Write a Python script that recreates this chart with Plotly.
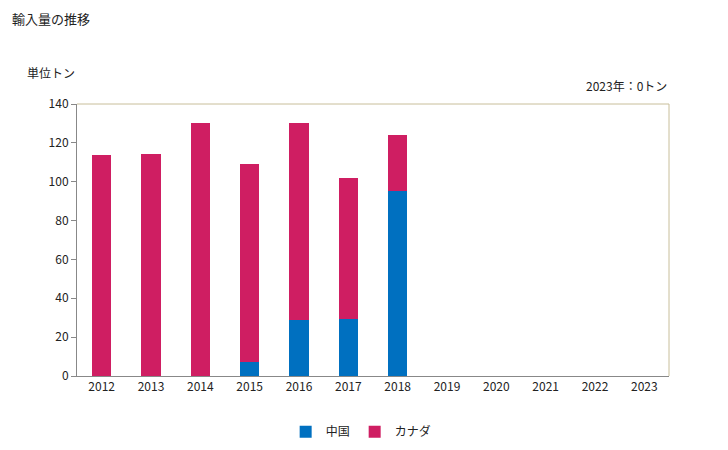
import plotly.graph_objects as go

years = ["2012", "2013", "2014", "2015", "2016", "2017", "2018",
         "2019", "2020", "2021", "2022", "2023"]
china = [0, 0, 0, 7.3, 29, 29.3, 95, 0, 0, 0, 0, 0]
canada = [114, 114.5, 130, 101.7, 101, 72.6, 29, 0, 0, 0, 0, 0]

FONT = "Noto Sans CJK JP"

fig = go.Figure()
fig.add_trace(go.Bar(x=years, y=china, name="中国", marker_color="#0070C0",
                     marker_line_width=0))
fig.add_trace(go.Bar(x=years, y=canada, name="カナダ", marker_color="#CF1E62",
                     marker_line_width=0))

# page body has an 8px default margin, so size/margins are offset to compensate
fig.update_layout(
    barmode="stack",
    bargap=0.61,
    width=720,
    height=442,
    margin=dict(l=69, r=59, t=96, b=74, autoexpand=False),
    paper_bgcolor="white",
    plot_bgcolor="white",
    font=dict(family=FONT, size=12, color="#222"),
    showlegend=True,
    legend=dict(
        orientation="h",
        x=0.48,
        xanchor="center",
        y=-0.205,
        yanchor="middle",
        font=dict(size=12),
        itemwidth=30,
        tracegroupgap=0,
        traceorder="normal",
    ),
    xaxis=dict(
        showgrid=False,
        showline=True,
        linecolor="#888888",
        linewidth=1,
        ticks="",
        tickfont=dict(size=12),
        automargin=False,
    ),
    yaxis=dict(
        range=[0, 140],
        dtick=20,
        showgrid=False,
        showline=True,
        linecolor="#888888",
        linewidth=1,
        ticks="outside",
        ticklen=5,
        tickcolor="#888888",
        tickfont=dict(size=12),
        zeroline=False,
        automargin=False,
    ),
    shapes=[
        dict(type="line", xref="paper", yref="paper", x0=0, x1=1, y0=1, y1=1,
             line=dict(color="#C8BE9A", width=1)),
        dict(type="line", xref="paper", yref="paper", x0=1, x1=1, y0=0, y1=1,
             line=dict(color="#C8BE9A", width=1)),
    ],
    annotations=[
        dict(text="輸入量の推移", xref="paper", yref="paper", x=-67 / 592, y=1 + 86 / 272,
             xanchor="left", yanchor="middle", showarrow=False, font=dict(size=13)),
        dict(text="単位トン", xref="paper", yref="paper", x=-52 / 592, y=1 + 31 / 272,
             xanchor="left", yanchor="middle", showarrow=False, font=dict(size=12)),
        dict(text="2023年：0トン", xref="paper", yref="paper", x=1, y=1 + 19 / 272,
             xanchor="right", yanchor="middle", showarrow=False, font=dict(size=12)),
    ],
)

fig.write_html("out.html")
